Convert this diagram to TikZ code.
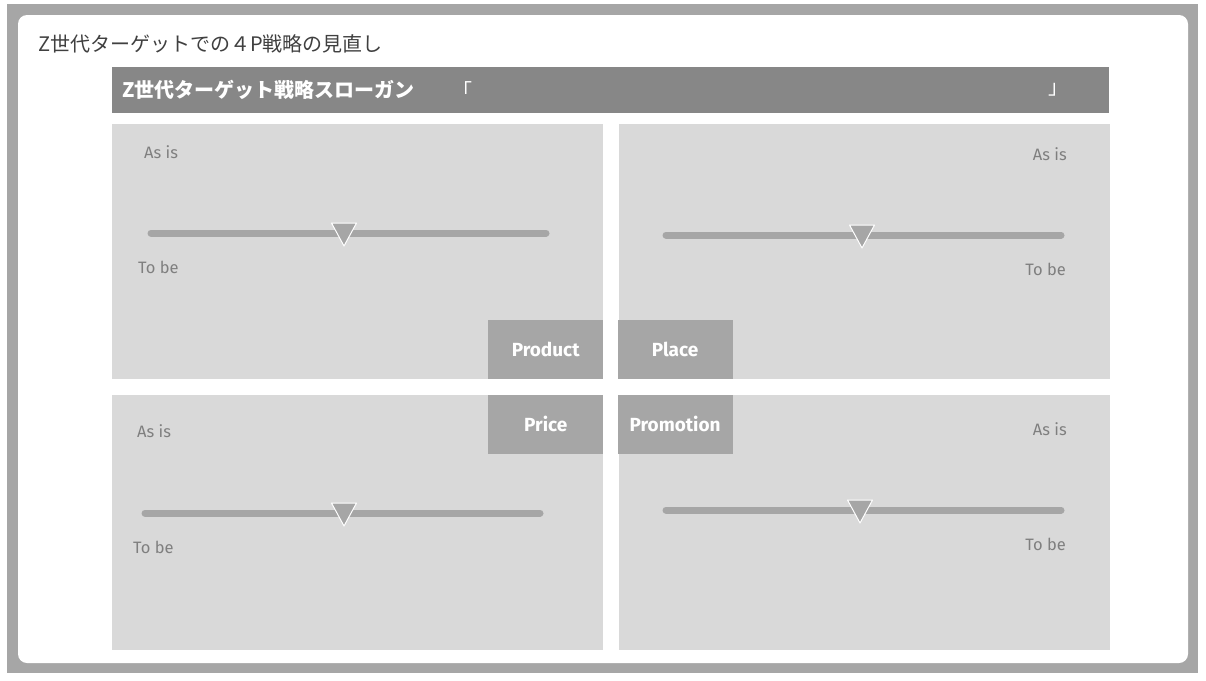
\documentclass[tikz,border=0pt]{standalone}
\usepackage{fontspec}
\setmainfont{Fira Sans}
\newfontfamily\jpfont{Noto Sans CJK JP}
\usetikzlibrary{positioning}

\definecolor{framegray}{HTML}{A6A6A6}
\definecolor{bargray}{HTML}{878787}
\definecolor{panelgray}{HTML}{D9D9D9}
\definecolor{labelgray}{HTML}{7F7F7F}
\definecolor{titlegray}{HTML}{404040}

\tikzset{
  panel/.style={fill=panelgray, minimum width=491pt, minimum height=255pt, inner sep=0pt},
  tag/.style={fill=framegray, text=white, font=\bfseries\fontsize{19}{21}\selectfont,
    minimum width=115pt, minimum height=59pt, inner sep=0pt},
  scalelabel/.style={text=labelgray, font=\fontsize{16.5}{18}\selectfont, inner sep=0pt},
  track/.style={draw=framegray, line width=7pt, line cap=round},
  pointer/.style={fill=framegray, draw=white, line width=1pt, line join=round}
}

\begin{document}
\begin{tikzpicture}[x=1pt, y=-1pt]
  \useasboundingbox (0,0) rectangle (1206,680);

  % Frame
  \fill[white] (0,0) rectangle (1206,680);
  \fill[framegray] (7,4) rectangle (1198,673);
  \fill[white, rounded corners=9pt] (18,15) rectangle (1188,663);

  % Title and slogan bar
  \node[anchor=west, inner sep=0pt, text=titlegray, font=\jpfont\fontsize{20}{22}\selectfont]
    (title) at (38,44) {Z世代ターゲットでの４P戦略の見直し};
  \node[fill=bargray, minimum width=997pt, minimum height=46pt, inner sep=0pt,
    anchor=north west] (bar) at (112,67) {};
  \node[anchor=west, inner sep=0pt, text=white, font=\jpfont\bfseries\fontsize{20}{22}\selectfont]
    (slogan) at (122,90) {Z世代ターゲット戦略スローガン};
  \node[text=white, inner sep=0pt, font=\jpfont\fontsize{20}{22}\selectfont]
    (open) at (462,90) {「};
  \node[text=white, inner sep=0pt, font=\jpfont\fontsize{20}{22}\selectfont]
    (close) at (1058,90) {」};

  % Define panels
  \node[panel, anchor=north west] (tl) at (112,124) {};
  \node[panel, right=15pt of tl]  (tr) {};
  \node[panel, below=15pt of tl]  (bl) {};
  \node[panel, below=15pt of tr]  (br) {};

  % Center tags
  \node[tag, anchor=south east] (product)   at (tl.south east) {Product};
  \node[tag, anchor=south west] (place)     at ([xshift=-1pt]tr.south west) {Place};
  \node[tag, anchor=north east] (price)     at (bl.north east) {Price};
  \node[tag, anchor=north west] (promotion) at ([xshift=-1pt]br.north west) {Promotion};

  % Sliders
  \foreach \a/\b/\y/\m in {151/546/233/344, 666/1061/235/862, 145/540/513/344, 666/1061/510/860}{
    \draw[track] (\a,\y) -- (\b,\y);
    \filldraw[pointer] (\m-12.5,\y-10) -- (\m+12.5,\y-10) -- (\m,\y+13) -- cycle;
  }

  % Scale labels
  \node[scalelabel, anchor=west] (tlas) at (144,152)  {As is};
  \node[scalelabel, anchor=west] (tlto) at (138,267)  {To be};
  \node[scalelabel, anchor=east] (tras) at (1067,154) {As is};
  \node[scalelabel, anchor=east] (trto) at (1066,269) {To be};
  \node[scalelabel, anchor=west] (blas) at (137,431)  {As is};
  \node[scalelabel, anchor=west] (blto) at (133,547)  {To be};
  \node[scalelabel, anchor=east] (bras) at (1067,429) {As is};
  \node[scalelabel, anchor=east] (brto) at (1066,544) {To be};
\end{tikzpicture}
\end{document}
